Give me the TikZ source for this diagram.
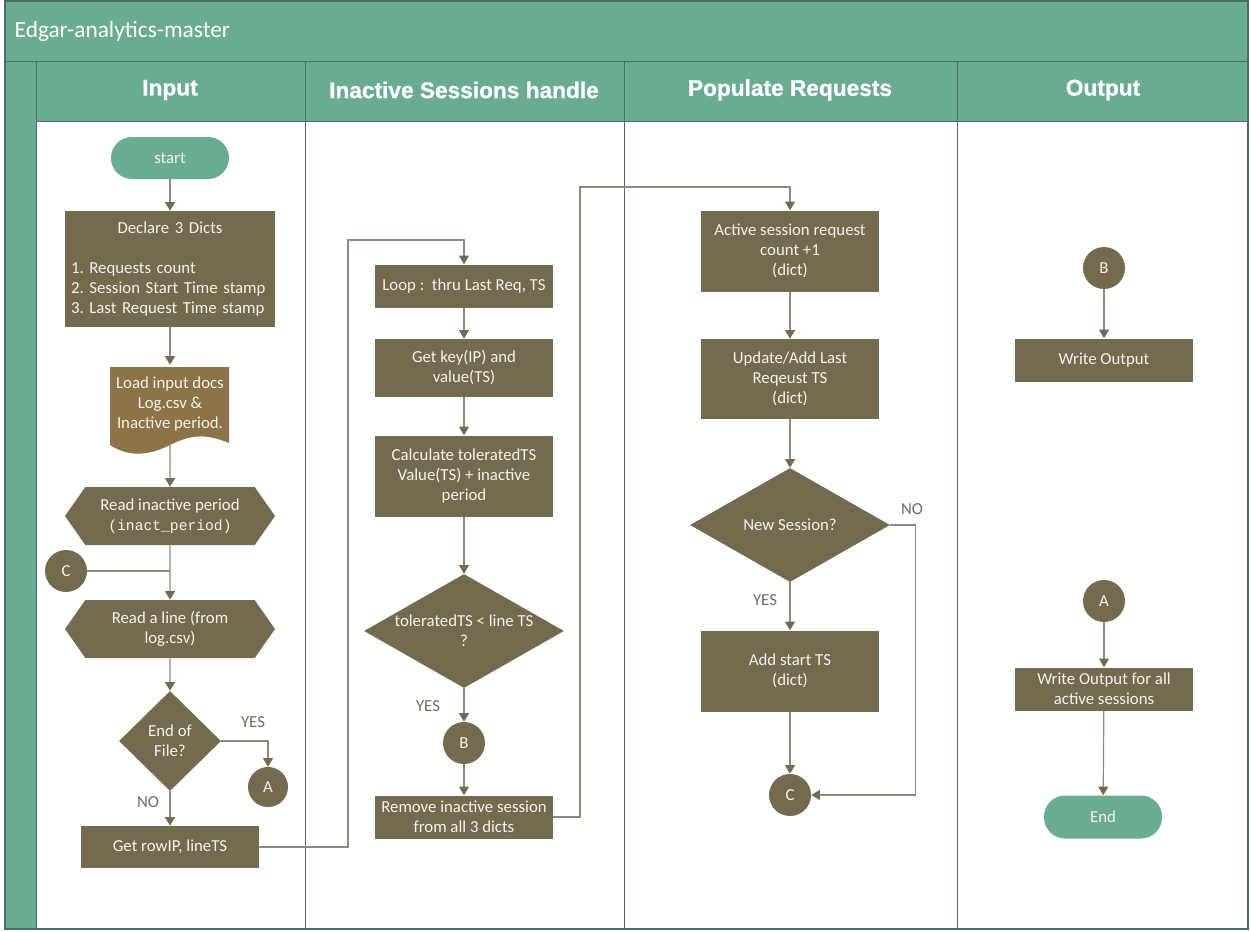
\documentclass[tikz,border=0pt]{standalone}
\usepackage{fontspec}
\setmainfont{Carlito}
\newfontfamily\codefont{Liberation Mono}
\newfontfamily\headfont[FakeBold=0.8]{Liberation Sans Bold}
\frenchspacing
\usetikzlibrary{shapes.geometric,shapes.symbols,arrows.meta}
\definecolor{lanegreen}{RGB}{106,172,145}
\definecolor{edgegreen}{RGB}{72,112,98}
\definecolor{boxolive}{RGB}{115,106,80}
\definecolor{docbrown}{RGB}{140,116,72}
\definecolor{wiregrey}{RGB}{140,138,122}
\definecolor{txtcream}{RGB}{246,243,234}
\definecolor{labelgrey}{RGB}{110,108,95}
\tikzset{
  box/.style={rectangle, fill=boxolive, text=txtcream, minimum width=133.5pt, minimum height=32.25pt, align=center, inner sep=2pt},
  terminal/.style={rectangle, rounded corners=15.75pt, fill=lanegreen, text=txtcream, minimum width=88.5pt, minimum height=31.5pt},
  decision/.style={diamond, fill=boxolive, text=txtcream, align=center, inner sep=0pt},
  hexbox/.style={signal, signal to=west and east, signal pointer angle=110, fill=boxolive, text=txtcream, align=center, minimum width=157.5pt, minimum height=43.5pt, inner sep=0pt},
  connector/.style={circle, fill=boxolive, text=txtcream, minimum size=31.5pt, inner sep=0pt},
  choice/.style={text=labelgrey, inner sep=1pt},
  lanehead/.style={text=white, font=\headfont\fontsize{17}{20}\selectfont},
  flow/.style={draw=wiregrey, line width=0.9pt, -{Triangle[width=7.5pt,length=6.5pt,color=boxolive,fill=boxolive]}},
  wire/.style={draw=wiregrey, line width=0.9pt}
}
\begin{document}
\begin{tikzpicture}[x=0.75pt, y=-0.75pt, every node/.append style={font=\fontsize{12.6}{15}\selectfont}]
  % pool and lanes
  \fill[white] (0,0) rectangle (1251,931);
  \fill[lanegreen] (5,1) rectangle (1248,61);
  \fill[lanegreen] (5,61) rectangle (36,929);
  \fill[lanegreen] (36,61) rectangle (1248,121);
  \draw[edgegreen, line width=0.9pt] (5,1) rectangle (1248,929);
  \draw[edgegreen] (5,61) -- (1248,61);
  \draw[edgegreen] (36,61) -- (36,929);
  \draw[edgegreen] (36,121) -- (1248,121);
  \foreach \x in {305,624,957}
    \draw[edgegreen] (\x,61) -- (\x,929);
  \node[anchor=west, text=white, font=\fontsize{17.5}{20}\selectfont] (title) at (10,31) {Edgar-analytics-master};
  \node[lanehead] (headin) at (170,90) {Input};
  \node[lanehead] (headinact) at (464,90) {Inactive Sessions handle};
  \node[lanehead] (headpop) at (790,90) {Populate Requests};
  \node[lanehead] (headout) at (1103,90) {Output};

  % input lane
  \node[terminal] (start) at (170,158) {start};
  \node[box, minimum width=157.5pt, minimum height=87pt, text width=148.5pt, inner xsep=4.5pt, align=left] (declare) at (170,269)
    {\makebox[148.5pt]{Declare 3 Dicts}\\[15pt]1. Requests count\\2. Session Start Time stamp\\3. Last Request Time stamp};
  \fill[docbrown] (110,367) -- (229,367) -- (229,443) .. controls (205,433) and (190,435) .. (170,445)
    .. controls (150,455) and (130,458) .. (110,445) -- cycle;
  \node[text=txtcream, align=center, minimum width=89.25pt, minimum height=58.5pt, inner sep=0pt] (doc) at (170,404)
    {Load input docs\\Log.csv \&\\Inactive period.};
  \node[hexbox] (readper) at (170,516) {Read inactive period\\{\codefont\fontsize{11}{15}\selectfont(inact\_period)}};
  \node[connector] (conC1) at (66,571) {C};
  \node[hexbox] (readline) at (170,629) {Read a line (from\\log.csv)};
  \node[decision, minimum width=76.5pt, minimum height=75pt] (eof) at (170,741) {End of\\File?};
  \node[connector, minimum size=30pt] (conA1) at (268,787) {A};
  \node[box, minimum height=31.5pt] (getrow) at (170,847) {Get rowIP, lineTS};
  \node[choice] (yes1) at (253,722) {YES};
  \node[choice] (no1) at (148,802) {NO};

  % inactive sessions lane
  \node[box] (loop) at (464,286) {Loop :\ \ thru Last Req, TS};
  \node[box, minimum height=43.5pt] (getkey) at (464,368) {Get key(IP) and\\value(TS)};
  \node[box, minimum height=60.75pt] (calc) at (464,476) {Calculate toleratedTS\\Value(TS) + inactive\\period};
  \node[decision, aspect=1.75, minimum width=150pt, minimum height=85.5pt] (tolcheck) at (464,631) {toleratedTS < line TS\\?};
  \node[choice] (yes2) at (428,706) {YES};
  \node[connector] (conB1) at (464,743) {B};
  \node[box] (remove) at (464,817) {Remove inactive session\\from all 3 dicts};

  % populate lane
  \node[box, minimum height=60.75pt] (active) at (790,251) {Active session request\\count +1\\(dict)};
  \node[box, minimum height=60pt] (update) at (790,379) {Update/Add Last\\Reqeust TS\\(dict)};
  \node[decision, aspect=1.75, minimum width=150pt, minimum height=85.5pt] (newsess) at (790,525) {New Session?};
  \node[choice] (no2) at (912,509) {NO};
  \node[choice] (yes3) at (765,600) {YES};
  \node[box, minimum height=60.75pt] (addstart) at (790,671) {Add start TS\\(dict)};
  \node[connector] (conC2) at (790,795) {C};

  % output lane
  \node[connector] (conB2) at (1104,268) {B};
  \node[box] (writeout) at (1104,360) {Write Output};
  \node[connector] (conA2) at (1104,601) {A};
  \node[box] (writeall) at (1104,689) {Write Output for all\\active sessions};
  \node[terminal, minimum height=32.25pt] (finish) at (1103,817) {End};

  % connectors
  \draw[flow] (start) -- (declare);
  \draw[flow] (declare) -- (doc);
  \draw[flow] (doc) -- (readper);
  \draw[flow] (readper) -- (readline);
  \draw[wire] (conC1) -- (conC1 -| readline);
  \draw[flow] (readline) -- (eof);
  \draw[flow] (eof.east) -| (conA1);
  \draw[flow] (eof) -- (getrow);
  \draw[flow] (getrow.east) -| (348,240) -| (loop);
  \draw[flow] (loop) -- (getkey);
  \draw[flow] (getkey) -- (calc);
  \draw[flow] (calc) -- (tolcheck);
  \draw[flow] (tolcheck) -- (conB1);
  \draw[flow] (conB1) -- (remove);
  \draw[flow] (remove.east) -| (580,187) -| (active);
  \draw[flow] (active) -- (update);
  \draw[flow] (update) -- (newsess);
  \draw[flow] (newsess) -- (addstart);
  \draw[flow] (addstart) -- (conC2);
  \draw[flow] (newsess.east) -- ++(25,0) |- (conC2);
  \draw[flow] (conB2) -- (writeout);
  \draw[flow] (conA2) -- (writeall);
  \draw[flow] (writeall) -- (finish);
\end{tikzpicture}
\end{document}
